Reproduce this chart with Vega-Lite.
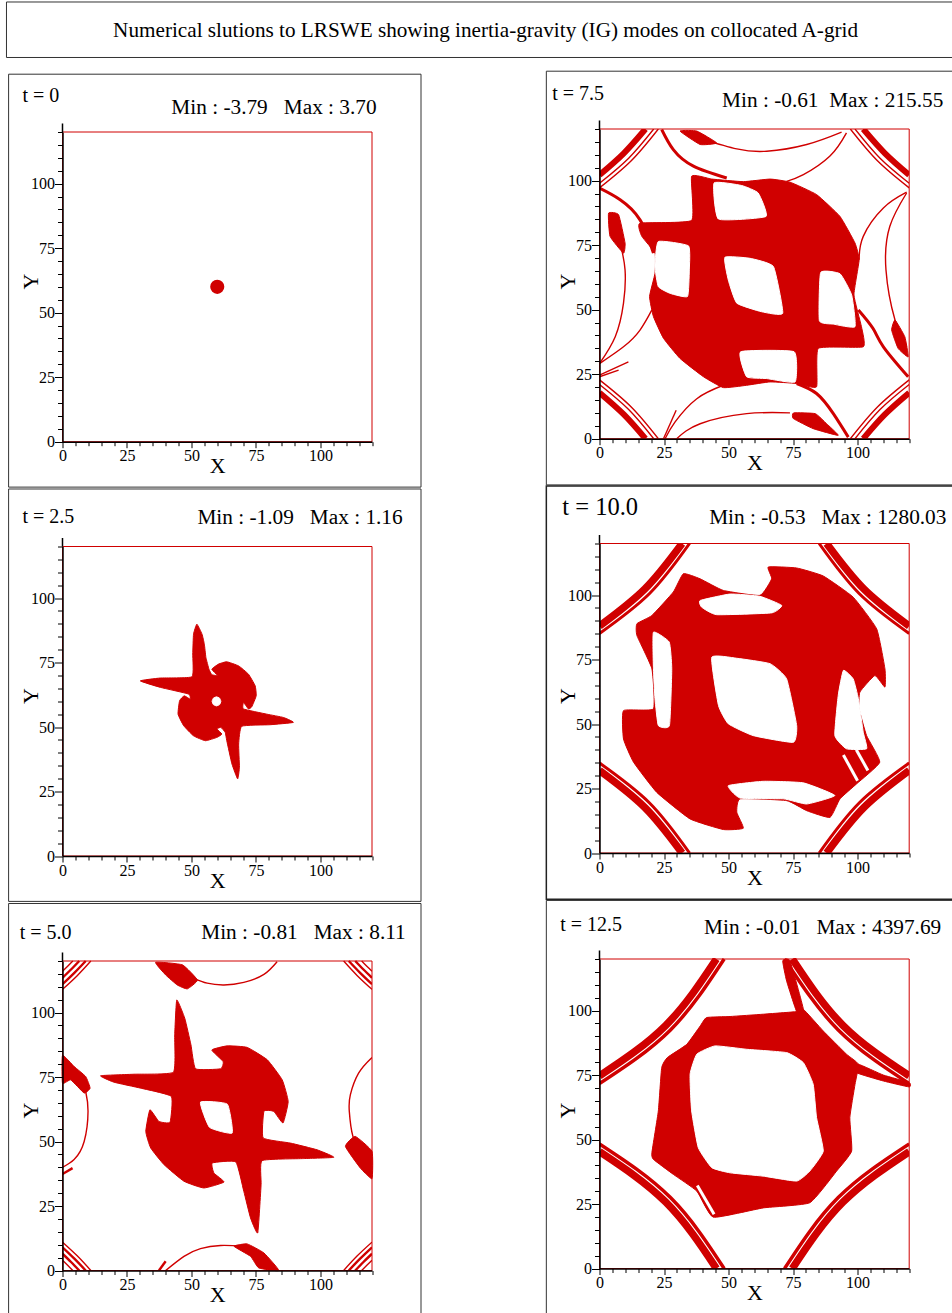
{"$schema":"https://vega.github.io/schema/vega-lite/v6.json","background":"white","padding":{"left":5.5,"top":0.5,"right":0,"bottom":0},"bounds":"flush","columns":2,"spacing":{"row":101.5,"column":227},
"config":{"view":{"stroke":null},"font":"Liberation Serif","axis":{"grid":false,"domainColor":"#000","tickColor":"#000","labelColor":"#000","titleColor":"#000","labelFont":"Liberation Serif","titleFont":"Liberation Serif","labelFontSize":16,"titleFontSize":22,"titleFontWeight":"normal","domainWidth":1.5,"labelOverlap":false,"labelFlush":false},"axisX":{"labelPadding":0,"titleY":31,"titleBaseline":"alphabetic"},"axisY":{"labelPadding":0,"titleX":-25,"titleY":152,"titleBaseline":"alphabetic"}},
"datasets":{
"box":[{"x":0,"y":0,"i":0},{"x":120,"y":0,"i":1},{"x":120,"y":120,"i":2},{"x":0,"y":120,"i":3},{"x":0,"y":0,"i":4}],
"ext":[{"x":0,"y":120,"i":0},{"x":0,"y":123.3,"i":1}],
"p2":[{"s":"f1","i":0,"x":52.1,"y":89.9},{"s":"f1","i":1,"x":54.1,"y":86},{"s":"f1","i":2,"x":55,"y":82.1},{"s":"f1","i":3,"x":55.6,"y":77},{"s":"f1","i":4,"x":56.8,"y":72.4},{"s":"f1","i":5,"x":57.9,"y":70.3},{"s":"f1","i":6,"x":60.1,"y":70},{"s":"f1","i":7,"x":57.9,"y":72.4},{"s":"f1","i":8,"x":60.5,"y":74.4},{"s":"f1","i":9,"x":63.7,"y":75.3},{"s":"f1","i":10,"x":68.3,"y":73.7},{"s":"f1","i":11,"x":72.1,"y":70.5},{"s":"f1","i":12,"x":74.7,"y":66},{"s":"f1","i":13,"x":75.1,"y":62.1},{"s":"f1","i":14,"x":73.4,"y":57.9},{"s":"f1","i":15,"x":72.1,"y":57},{"s":"f1","i":16,"x":70.2,"y":59.5},{"s":"f1","i":17,"x":70.2,"y":57},{"s":"f1","i":18,"x":79.2,"y":55},{"s":"f1","i":19,"x":85.7,"y":53.7},{"s":"f1","i":20,"x":89.5,"y":51.8},{"s":"f1","i":21,"x":80.5,"y":50.9},{"s":"f1","i":22,"x":69.5,"y":50.3},{"s":"f1","i":23,"x":68.3,"y":43.4},{"s":"f1","i":24,"x":68.6,"y":34.4},{"s":"f1","i":25,"x":67.9,"y":29.9},{"s":"f1","i":26,"x":65.7,"y":35.7},{"s":"f1","i":27,"x":63.7,"y":44.7},{"s":"f1","i":28,"x":63.1,"y":47.9},{"s":"f1","i":29,"x":61.4,"y":49.9},{"s":"f1","i":30,"x":59.9,"y":49.2},{"s":"f1","i":31,"x":61.8,"y":47.3},{"s":"f1","i":32,"x":59.9,"y":46},{"s":"f1","i":33,"x":55.4,"y":44.7},{"s":"f1","i":34,"x":50.8,"y":46.6},{"s":"f1","i":35,"x":47,"y":50.5},{"s":"f1","i":36,"x":44.8,"y":55},{"s":"f1","i":37,"x":45.4,"y":60.2},{"s":"f1","i":38,"x":47.2,"y":62.1},{"s":"f1","i":39,"x":49.5,"y":60.8},{"s":"f1","i":40,"x":48.9,"y":62.8},{"s":"f1","i":41,"x":37.9,"y":65.4},{"s":"f1","i":42,"x":30.2,"y":67.9},{"s":"f1","i":43,"x":37.9,"y":69},{"s":"f1","i":44,"x":50.2,"y":69.5},{"s":"f1","i":45,"x":50.5,"y":78.3},{"s":"f1","i":46,"x":50.8,"y":86},
{"s":"h1","i":0,"x":58,"y":60},{"s":"h1","i":1,"x":58.5,"y":61.2},{"s":"h1","i":2,"x":59.7,"y":61.7},{"s":"h1","i":3,"x":60.9,"y":61.2},{"s":"h1","i":4,"x":61.4,"y":60},{"s":"h1","i":5,"x":60.9,"y":58.7},{"s":"h1","i":6,"x":59.7,"y":58.2},{"s":"h1","i":7,"x":58.5,"y":58.7}],
"p3":[{"s":"f1","i":0,"x":44.3,"y":104.9},{"s":"f1","i":1,"x":47.4,"y":97.8},{"s":"f1","i":2,"x":49.8,"y":87.5},{"s":"f1","i":3,"x":51.6,"y":78.2},{"s":"f1","i":4,"x":61.3,"y":78.2},{"s":"f1","i":5,"x":62.3,"y":81},{"s":"f1","i":6,"x":57.9,"y":85.5},{"s":"f1","i":7,"x":63.9,"y":87.1},{"s":"f1","i":8,"x":71.6,"y":86.5},{"s":"f1","i":9,"x":79.4,"y":81.7},{"s":"f1","i":10,"x":85.2,"y":73.9},{"s":"f1","i":11,"x":87.5,"y":65.5},{"s":"f1","i":12,"x":85.5,"y":57.2},{"s":"f1","i":13,"x":81.9,"y":61.7},{"s":"f1","i":14,"x":78.1,"y":61.7},{"s":"f1","i":15,"x":77.8,"y":51.4},{"s":"f1","i":16,"x":88.4,"y":49.4},{"s":"f1","i":17,"x":98.7,"y":46.8},{"s":"f1","i":18,"x":105.2,"y":43.9},{"s":"f1","i":19,"x":93.5,"y":43.4},{"s":"f1","i":20,"x":77.4,"y":42.6},{"s":"f1","i":21,"x":77,"y":33.3},{"s":"f1","i":22,"x":75.7,"y":14.6},{"s":"f1","i":23,"x":72.9,"y":20.4},{"s":"f1","i":24,"x":70.3,"y":30.7},{"s":"f1","i":25,"x":67.2,"y":42.1},{"s":"f1","i":26,"x":58.1,"y":41.7},{"s":"f1","i":27,"x":58.7,"y":37.8},{"s":"f1","i":28,"x":62.6,"y":34.3},{"s":"f1","i":29,"x":54.8,"y":32},{"s":"f1","i":30,"x":47.1,"y":34.6},{"s":"f1","i":31,"x":39.4,"y":41},{"s":"f1","i":32,"x":34.2,"y":47.5},{"s":"f1","i":33,"x":32.3,"y":53.9},{"s":"f1","i":34,"x":33.9,"y":62.3},{"s":"f1","i":35,"x":37.4,"y":57.8},{"s":"f1","i":36,"x":41.7,"y":57.5},{"s":"f1","i":37,"x":42.2,"y":67.5},{"s":"f1","i":38,"x":30.3,"y":70.7},{"s":"f1","i":39,"x":20,"y":73},{"s":"f1","i":40,"x":14.8,"y":75.5},{"s":"f1","i":41,"x":27.7,"y":76.1},{"s":"f1","i":42,"x":43,"y":76.9},{"s":"f1","i":43,"x":43.5,"y":91.4},
{"s":"f2","i":0,"x":36.1,"y":119.5},{"s":"f2","i":1,"x":46.5,"y":118.5},{"s":"f2","i":2,"x":52.3,"y":112.6},{"s":"f2","i":3,"x":48.4,"y":109.2},{"s":"f2","i":4,"x":44.5,"y":110.7},{"s":"f2","i":5,"x":40,"y":114.6},
{"s":"f3","i":0,"x":0,"y":83.4},{"s":"f3","i":1,"x":4.5,"y":79.1},{"s":"f3","i":2,"x":9,"y":75.2},{"s":"f3","i":3,"x":10.7,"y":70.7},{"s":"f3","i":4,"x":8.4,"y":68.8},{"s":"f3","i":5,"x":3.2,"y":73.9},{"s":"f3","i":6,"x":0,"y":72.6},
{"s":"f4","i":0,"x":109.7,"y":48.1},{"s":"f4","i":1,"x":113.5,"y":52},{"s":"f4","i":2,"x":120,"y":46.2},{"s":"f4","i":3,"x":120,"y":35.6},{"s":"f4","i":4,"x":115.5,"y":39.7},
{"s":"f5","i":0,"x":66.5,"y":9.4},{"s":"f5","i":1,"x":71.6,"y":10.3},{"s":"f5","i":2,"x":78.1,"y":6.8},{"s":"f5","i":3,"x":83.9,"y":0},{"s":"f5","i":4,"x":76.1,"y":1},{"s":"f5","i":5,"x":72.9,"y":5.5},
{"s":"h1","i":0,"x":53.5,"y":65.3},{"s":"h1","i":1,"x":63.9,"y":64.5},{"s":"h1","i":2,"x":65.8,"y":53.3},{"s":"h1","i":3,"x":57,"y":55.5},
{"s":"t1","i":0,"x":51,"y":113.3},{"s":"t1","i":1,"x":56.1,"y":111.4},{"s":"t1","i":2,"x":62.6,"y":110.7},{"s":"t1","i":3,"x":70.3,"y":111.7},{"s":"t1","i":4,"x":78.1,"y":114.8},{"s":"t1","i":5,"x":83.2,"y":119.7},
{"s":"t2","i":0,"x":0,"y":40},{"s":"t2","i":1,"x":4.5,"y":43},{"s":"t2","i":2,"x":8.4,"y":50},{"s":"t2","i":3,"x":9.9,"y":61.7},{"s":"t2","i":4,"x":9,"y":69.4},{"s":"t2","i":5,"x":6.5,"y":75.9},{"s":"t2","i":6,"x":0,"y":83},
{"s":"t3","i":0,"x":120,"y":82.6},{"s":"t3","i":1,"x":114.8,"y":76.5},{"s":"t3","i":2,"x":111.6,"y":68.1},{"s":"t3","i":3,"x":111.2,"y":61.7},{"s":"t3","i":4,"x":112.6,"y":52},{"s":"t3","i":5,"x":115.5,"y":47},
{"s":"t4","i":0,"x":40,"y":0},{"s":"t4","i":1,"x":47.1,"y":5.5},{"s":"t4","i":2,"x":53.5,"y":8.5},{"s":"t4","i":3,"x":61.3,"y":9.7},{"s":"t4","i":4,"x":70.3,"y":9.4},
{"s":"m1","i":0,"x":0,"y":37.4},{"s":"m1","i":1,"x":3.9,"y":39.7},{"s":"m2","i":0,"x":37.4,"y":0},{"s":"m2","i":1,"x":40,"y":3.6},
{"s":"t5","i":0,"x":0,"y":109},{"s":"t5","i":1,"x":5.7,"y":114.3},{"s":"t5","i":2,"x":11,"y":120},{"s":"t6","i":0,"x":0,"y":11},{"s":"t6","i":1,"x":5.7,"y":5.7},{"s":"t6","i":2,"x":11,"y":0},{"s":"t7","i":0,"x":109,"y":120},{"s":"t7","i":1,"x":114.3,"y":114.3},{"s":"t7","i":2,"x":120,"y":109},{"s":"t8","i":0,"x":109,"y":0},{"s":"t8","i":1,"x":114.3,"y":5.7},{"s":"t8","i":2,"x":120,"y":11},
{"s":"m3","i":0,"x":0,"y":111},{"s":"m3","i":1,"x":4.6,"y":115.4},{"s":"m3","i":2,"x":9,"y":120},{"s":"m4","i":0,"x":0,"y":9},{"s":"m4","i":1,"x":4.6,"y":4.6},{"s":"m4","i":2,"x":9,"y":0},{"s":"m5","i":0,"x":111,"y":120},{"s":"m5","i":1,"x":115.4,"y":115.4},{"s":"m5","i":2,"x":120,"y":111},{"s":"m6","i":0,"x":111,"y":0},{"s":"m6","i":1,"x":115.4,"y":4.6},{"s":"m6","i":2,"x":120,"y":9},
{"s":"m7","i":0,"x":0,"y":113.5},{"s":"m7","i":1,"x":3.3,"y":116.7},{"s":"m7","i":2,"x":6.5,"y":120},{"s":"m8","i":0,"x":0,"y":6.5},{"s":"m8","i":1,"x":3.3,"y":3.3},{"s":"m8","i":2,"x":6.5,"y":0},{"s":"m9","i":0,"x":113.5,"y":120},{"s":"m9","i":1,"x":116.7,"y":116.7},{"s":"m9","i":2,"x":120,"y":113.5},{"s":"m10","i":0,"x":113.5,"y":0},{"s":"m10","i":1,"x":116.7,"y":3.3},{"s":"m10","i":2,"x":120,"y":6.5},
{"s":"t9","i":0,"x":0,"y":116},{"s":"t9","i":1,"x":2,"y":118},{"s":"t9","i":2,"x":4,"y":120},{"s":"t10","i":0,"x":0,"y":4},{"s":"t10","i":1,"x":2,"y":2},{"s":"t10","i":2,"x":4,"y":0},{"s":"t11","i":0,"x":116,"y":120},{"s":"t11","i":1,"x":118,"y":118},{"s":"t11","i":2,"x":120,"y":116},{"s":"t12","i":0,"x":116,"y":0},{"s":"t12","i":1,"x":118,"y":2},{"s":"t12","i":2,"x":120,"y":4}],
"p4":[{"s":"f1","i":0,"x":35.7,"y":101.7},{"s":"f1","i":1,"x":43.5,"y":100.6},{"s":"f1","i":2,"x":55.7,"y":99.6},{"s":"f1","i":3,"x":66.1,"y":100.6},{"s":"f1","i":4,"x":73.8,"y":99.4},{"s":"f1","i":5,"x":84.1,"y":94.6},{"s":"f1","i":6,"x":93.2,"y":86.1},{"s":"f1","i":7,"x":99,"y":75.8},{"s":"f1","i":8,"x":100.6,"y":69.3},{"s":"f1","i":9,"x":98.6,"y":55.7},{"s":"f1","i":10,"x":101.5,"y":43.4},{"s":"f1","i":11,"x":102.2,"y":35.6},{"s":"f1","i":12,"x":84.8,"y":35},{"s":"f1","i":13,"x":84.1,"y":20.1},{"s":"f1","i":14,"x":76.4,"y":21.4},{"s":"f1","i":15,"x":66.1,"y":22},{"s":"f1","i":16,"x":57,"y":20.7},{"s":"f1","i":17,"x":48,"y":19.8},{"s":"f1","i":18,"x":40.3,"y":24},{"s":"f1","i":19,"x":31.2,"y":31.1},{"s":"f1","i":20,"x":24.8,"y":38.9},{"s":"f1","i":21,"x":20.9,"y":47.3},{"s":"f1","i":22,"x":19.4,"y":55.1},{"s":"f1","i":23,"x":21.5,"y":64.1},{"s":"f1","i":24,"x":21.5,"y":71.9},{"s":"f1","i":25,"x":16.4,"y":78.4},{"s":"f1","i":26,"x":15.7,"y":83.5},{"s":"f1","i":27,"x":35.7,"y":84.6},
{"s":"f2","i":0,"x":31.2,"y":119.2},{"s":"f2","i":1,"x":37.7,"y":119.2},{"s":"f2","i":2,"x":45.4,"y":114.6},{"s":"f2","i":3,"x":39,"y":114},
{"s":"f3","i":0,"x":3.5,"y":87.4},{"s":"f3","i":1,"x":7.4,"y":86.8},{"s":"f3","i":2,"x":9.9,"y":75.8},{"s":"f3","i":3,"x":9.3,"y":71.9},{"s":"f3","i":4,"x":4.1,"y":78.4},
{"s":"f4","i":0,"x":75.2,"y":10},{"s":"f4","i":1,"x":83.6,"y":9.7},{"s":"f4","i":2,"x":88,"y":5.8},{"s":"f4","i":3,"x":92.5,"y":1.3},{"s":"f4","i":4,"x":82.8,"y":3.9},{"s":"f4","i":5,"x":75.1,"y":7.8},
{"s":"f5","i":0,"x":114.5,"y":46},{"s":"f5","i":1,"x":118.3,"y":39.5},{"s":"f5","i":2,"x":119.6,"y":31.7},{"s":"f5","i":3,"x":115.7,"y":35},{"s":"f5","i":4,"x":113.2,"y":42.1},
{"s":"h1","i":0,"x":44.4,"y":99.1},{"s":"h1","i":1,"x":55.1,"y":98.1},{"s":"h1","i":2,"x":61.5,"y":95.2},{"s":"h1","i":3,"x":64.5,"y":86.1},{"s":"h1","i":4,"x":46.1,"y":85.1},
{"s":"h2","i":0,"x":22.8,"y":76.4},{"s":"h2","i":1,"x":34.5,"y":74.7},{"s":"h2","i":2,"x":34.8,"y":65.4},{"s":"h2","i":3,"x":34.1,"y":55.1},{"s":"h2","i":4,"x":27.4,"y":56.3},{"s":"h2","i":5,"x":22.8,"y":58.9},{"s":"h2","i":6,"x":21.5,"y":66.7},
{"s":"h3","i":0,"x":48.6,"y":70.3},{"s":"h3","i":1,"x":58.3,"y":69.9},{"s":"h3","i":2,"x":67.4,"y":66.7},{"s":"h3","i":3,"x":71,"y":48.6},{"s":"h3","i":4,"x":62.8,"y":49.2},{"s":"h3","i":5,"x":53.2,"y":52.5},{"s":"h3","i":6,"x":49.9,"y":61.5},
{"s":"h4","i":0,"x":85.7,"y":64.4},{"s":"h4","i":1,"x":93.2,"y":63.9},{"s":"h4","i":2,"x":97.7,"y":55.7},{"s":"h4","i":3,"x":99,"y":43.4},{"s":"h4","i":4,"x":90.6,"y":44.4},{"s":"h4","i":5,"x":85.2,"y":45.7},
{"s":"h5","i":0,"x":54.7,"y":33.7},{"s":"h5","i":1,"x":75.4,"y":33.7},{"s":"h5","i":2,"x":75.8,"y":22},{"s":"h5","i":3,"x":64.8,"y":23.3},{"s":"h5","i":4,"x":57,"y":24},
{"s":"t1","i":0,"x":93.8,"y":118.8},{"s":"t1","i":1,"x":80.3,"y":114},{"s":"t1","i":2,"x":64.8,"y":111.4},{"s":"t1","i":3,"x":53.2,"y":112.3},{"s":"t1","i":4,"x":40.3,"y":115.9},
{"s":"m1","i":0,"x":24.1,"y":119.8},{"s":"m1","i":1,"x":28.6,"y":112},{"s":"m1","i":2,"x":36.4,"y":105.6},{"s":"m1","i":3,"x":49.3,"y":101},
{"s":"t2","i":0,"x":95.7,"y":118.5},{"s":"t2","i":1,"x":89.3,"y":109.5},{"s":"t2","i":2,"x":79,"y":102.3},{"s":"t2","i":3,"x":72.5,"y":99.7},
{"s":"t3","i":0,"x":0,"y":29.1},{"s":"t3","i":1,"x":6.1,"y":39.5},{"s":"t3","i":2,"x":9.3,"y":52.5},{"s":"t3","i":3,"x":9.9,"y":65.4},{"s":"t3","i":4,"x":8,"y":75.8},
{"s":"m2","i":0,"x":0,"y":97.1},{"s":"m2","i":1,"x":8,"y":92.6},{"s":"m2","i":2,"x":15.7,"y":84.8},{"s":"m2","i":3,"x":20.9,"y":71.9},
{"s":"t4","i":0,"x":0,"y":29.1},{"s":"t4","i":1,"x":9.3,"y":35.6},{"s":"t4","i":2,"x":15.7,"y":42.1},{"s":"t4","i":3,"x":20.3,"y":49.9},
{"s":"t5","i":0,"x":0,"y":24.6},{"s":"t5","i":1,"x":11.2,"y":29.8},{"s":"t6","i":0,"x":0,"y":24},{"s":"t6","i":1,"x":7.4,"y":26.6},
{"s":"t7","i":0,"x":29.9,"y":0},{"s":"t7","i":1,"x":39,"y":5.8},{"s":"t7","i":2,"x":57,"y":9.7},{"s":"t7","i":3,"x":73.8,"y":10},
{"s":"t8","i":0,"x":24.8,"y":0},{"s":"t8","i":1,"x":29.7,"y":11},
{"s":"t9","i":0,"x":48,"y":20.7},{"s":"t9","i":1,"x":37.7,"y":15.5},{"s":"t9","i":2,"x":29.3,"y":6.5},{"s":"t9","i":3,"x":25.4,"y":0},
{"s":"m3","i":0,"x":76.4,"y":21.4},{"s":"m3","i":1,"x":84.1,"y":17.5},{"s":"m3","i":2,"x":90.6,"y":9.7},{"s":"m3","i":3,"x":96.4,"y":0.6},
{"s":"t10","i":0,"x":100.6,"y":69.3},{"s":"t10","i":1,"x":102.2,"y":78.4},{"s":"t10","i":2,"x":110,"y":89.4},{"s":"t10","i":3,"x":119,"y":95.5},
{"s":"t11","i":0,"x":119,"y":95.2},{"s":"t11","i":1,"x":112.5,"y":82.3},{"s":"t11","i":2,"x":111,"y":65.4},{"s":"t11","i":3,"x":114.5,"y":46},{"s":"t11","i":4,"x":119,"y":35.6},
{"s":"m4","i":0,"x":100.3,"y":49.9},{"s":"m4","i":1,"x":106,"y":42.7},{"s":"m4","i":2,"x":110,"y":35.6},{"s":"m4","i":3,"x":119.6,"y":24},
{"s":"T1","i":0,"x":0,"y":102.2},{"s":"T1","i":1,"x":9.4,"y":110.6},{"s":"T1","i":2,"x":17.8,"y":120},{"s":"T2","i":0,"x":0,"y":17.8},{"s":"T2","i":1,"x":9.4,"y":9.4},{"s":"T2","i":2,"x":17.8,"y":0},{"s":"T3","i":0,"x":102.2,"y":120},{"s":"T3","i":1,"x":110.6,"y":110.6},{"s":"T3","i":2,"x":120,"y":102.2},{"s":"T4","i":0,"x":102.2,"y":0},{"s":"T4","i":1,"x":110.6,"y":9.4},{"s":"T4","i":2,"x":120,"y":17.8},
{"s":"t21","i":0,"x":0,"y":99},{"s":"t21","i":1,"x":11.3,"y":108.7},{"s":"t21","i":2,"x":21,"y":120},{"s":"t22","i":0,"x":0,"y":21},{"s":"t22","i":1,"x":11.3,"y":11.3},{"s":"t22","i":2,"x":21,"y":0},{"s":"t23","i":0,"x":99,"y":120},{"s":"t23","i":1,"x":108.7,"y":108.7},{"s":"t23","i":2,"x":120,"y":99},{"s":"t24","i":0,"x":99,"y":0},{"s":"t24","i":1,"x":108.7,"y":11.3},{"s":"t24","i":2,"x":120,"y":21},
{"s":"t31","i":0,"x":0,"y":97.2},{"s":"t31","i":1,"x":12.3,"y":107.7},{"s":"t31","i":2,"x":22.8,"y":120},{"s":"t32","i":0,"x":0,"y":22.8},{"s":"t32","i":1,"x":12.3,"y":12.3},{"s":"t32","i":2,"x":22.8,"y":0},{"s":"t33","i":0,"x":97.2,"y":120},{"s":"t33","i":1,"x":107.7,"y":107.7},{"s":"t33","i":2,"x":120,"y":97.2},{"s":"t34","i":0,"x":97.2,"y":0},{"s":"t34","i":1,"x":107.7,"y":12.3},{"s":"t34","i":2,"x":120,"y":22.8}],
"p5":[{"s":"f1","i":0,"x":65.4,"y":110.9},{"s":"f1","i":1,"x":76.4,"y":110.5},{"s":"f1","i":2,"x":86.7,"y":107.4},{"s":"f1","i":3,"x":98.3,"y":99.2},{"s":"f1","i":4,"x":107.4,"y":86.9},{"s":"f1","i":5,"x":110.6,"y":71.4},{"s":"f1","i":6,"x":110.6,"y":64.3},{"s":"f1","i":7,"x":106.7,"y":68.8},{"s":"f1","i":8,"x":100.9,"y":62.4},{"s":"f1","i":9,"x":100.6,"y":55.9},{"s":"f1","i":10,"x":103.5,"y":45.5},{"s":"f1","i":11,"x":108.6,"y":35.2},{"s":"f1","i":12,"x":99.6,"y":26.8},{"s":"f1","i":13,"x":93.2,"y":21},{"s":"f1","i":14,"x":89.3,"y":13.8},{"s":"f1","i":15,"x":80.3,"y":16.4},{"s":"f1","i":16,"x":72.5,"y":20.3},{"s":"f1","i":17,"x":54.5,"y":21},{"s":"f1","i":18,"x":53.2,"y":15.8},{"s":"f1","i":19,"x":55.7,"y":9.6},{"s":"f1","i":20,"x":48,"y":9.1},{"s":"f1","i":21,"x":35.1,"y":13.2},{"s":"f1","i":22,"x":22.2,"y":23.5},{"s":"f1","i":23,"x":13.2,"y":35.2},{"s":"f1","i":24,"x":9.3,"y":44.2},{"s":"f1","i":25,"x":9.3,"y":55.2},{"s":"f1","i":26,"x":20.9,"y":55.9},{"s":"f1","i":27,"x":20.3,"y":71.4},{"s":"f1","i":28,"x":14.5,"y":84.3},{"s":"f1","i":29,"x":14.5,"y":88.9},{"s":"f1","i":30,"x":20.3,"y":92.1},{"s":"f1","i":31,"x":28.6,"y":101.2},{"s":"f1","i":32,"x":32.5,"y":108.3},{"s":"f1","i":33,"x":39,"y":106.3},{"s":"f1","i":34,"x":48,"y":101.8},{"s":"f1","i":35,"x":62.2,"y":99.9},{"s":"f1","i":36,"x":66.7,"y":106.3},
{"s":"h1","i":0,"x":43.5,"y":75.9},{"s":"h1","i":1,"x":53.2,"y":75.5},{"s":"h1","i":2,"x":66.1,"y":73.4},{"s":"h1","i":3,"x":72.5,"y":67.5},{"s":"h1","i":4,"x":76.4,"y":49.4},{"s":"h1","i":5,"x":75.1,"y":42.9},{"s":"h1","i":6,"x":59.6,"y":45.5},{"s":"h1","i":7,"x":49.9,"y":50.1},{"s":"h1","i":8,"x":46.1,"y":57.2},
{"s":"h2","i":0,"x":39,"y":97.9},{"s":"h2","i":1,"x":50.6,"y":100.4},{"s":"h2","i":2,"x":62.2,"y":99.5},{"s":"h2","i":3,"x":70.6,"y":96},{"s":"h2","i":4,"x":66.7,"y":93.1},{"s":"h2","i":5,"x":45.4,"y":92.4},{"s":"h2","i":6,"x":39.6,"y":95.3},
{"s":"h3","i":0,"x":20.9,"y":85.6},{"s":"h3","i":1,"x":27,"y":81.8},{"s":"h3","i":2,"x":28,"y":71.4},{"s":"h3","i":3,"x":27.1,"y":49.4},{"s":"h3","i":4,"x":22.8,"y":49.4},{"s":"h3","i":5,"x":21.5,"y":59.8},{"s":"h3","i":6,"x":20.9,"y":71.4},
{"s":"h4","i":0,"x":94.5,"y":70.8},{"s":"h4","i":1,"x":98.3,"y":67.5},{"s":"h4","i":2,"x":100.3,"y":59.8},{"s":"h4","i":3,"x":102.2,"y":46.8},{"s":"h4","i":4,"x":103.5,"y":40.4},{"s":"h4","i":5,"x":95.7,"y":40.4},{"s":"h4","i":6,"x":91.2,"y":45.5},{"s":"h4","i":7,"x":92.5,"y":61.1},
{"s":"h5","i":0,"x":49.9,"y":26.1},{"s":"h5","i":1,"x":63.5,"y":27.8},{"s":"h5","i":2,"x":79,"y":27.2},{"s":"h5","i":3,"x":91.2,"y":22.3},{"s":"h5","i":4,"x":80.3,"y":19},{"s":"h5","i":5,"x":71.3,"y":21},{"s":"h5","i":6,"x":54.5,"y":21.3},
{"s":"w1","i":0,"x":94.5,"y":38},{"s":"w1","i":1,"x":100,"y":28},{"s":"w2","i":0,"x":99.5,"y":40},{"s":"w2","i":1,"x":104,"y":32},
{"s":"T1","i":0,"x":0,"y":88},{"s":"T1","i":1,"x":17.6,"y":102.4},{"s":"T1","i":2,"x":32,"y":120},{"s":"T2","i":0,"x":0,"y":32},{"s":"T2","i":1,"x":17.6,"y":17.6},{"s":"T2","i":2,"x":32,"y":0},{"s":"T3","i":0,"x":88,"y":120},{"s":"T3","i":1,"x":102.4,"y":102.4},{"s":"T3","i":2,"x":120,"y":88},{"s":"T4","i":0,"x":88,"y":0},{"s":"T4","i":1,"x":102.4,"y":17.6},{"s":"T4","i":2,"x":120,"y":32},
{"s":"m1","i":0,"x":0,"y":85.1},{"s":"m1","i":1,"x":19.4,"y":100.6},{"s":"m1","i":2,"x":34.9,"y":120},{"s":"m2","i":0,"x":0,"y":34.9},{"s":"m2","i":1,"x":19.4,"y":19.4},{"s":"m2","i":2,"x":34.9,"y":0},{"s":"m3","i":0,"x":85.1,"y":120},{"s":"m3","i":1,"x":100.6,"y":100.6},{"s":"m3","i":2,"x":120,"y":85.1},{"s":"m4","i":0,"x":85.1,"y":0},{"s":"m4","i":1,"x":100.6,"y":19.4},{"s":"m4","i":2,"x":120,"y":34.9}],
"p6":[{"s":"f1","i":0,"x":41.5,"y":97.3},{"s":"f1","i":1,"x":50.6,"y":97.7},{"s":"f1","i":2,"x":63.5,"y":98.6},{"s":"f1","i":3,"x":76.4,"y":99.6},{"s":"f1","i":4,"x":79,"y":100.5},{"s":"f1","i":5,"x":86.7,"y":92.1},{"s":"f1","i":6,"x":95.7,"y":83.1},{"s":"f1","i":7,"x":100.3,"y":79.2},{"s":"f1","i":8,"x":99,"y":71.4},{"s":"f1","i":9,"x":97,"y":58.5},{"s":"f1","i":10,"x":97.7,"y":45.5},{"s":"f1","i":11,"x":91.9,"y":37.8},{"s":"f1","i":12,"x":81.5,"y":25.5},{"s":"f1","i":13,"x":63.5,"y":23.5},{"s":"f1","i":14,"x":44.1,"y":19.9},{"s":"f1","i":15,"x":37.7,"y":30},{"s":"f1","i":16,"x":28.6,"y":36.5},{"s":"f1","i":17,"x":20.9,"y":42.3},{"s":"f1","i":18,"x":20.3,"y":44.9},{"s":"f1","i":19,"x":22.8,"y":61.1},{"s":"f1","i":20,"x":24.1,"y":77.9},{"s":"f1","i":21,"x":26.3,"y":81.8},{"s":"f1","i":22,"x":33.8,"y":86.9},{"s":"f1","i":23,"x":39,"y":94},
{"s":"f2","i":0,"x":71,"y":119.3},{"s":"f2","i":1,"x":73.8,"y":119.3},{"s":"f2","i":2,"x":79,"y":100.5},{"s":"f2","i":3,"x":76.4,"y":99.6},{"s":"f2","i":4,"x":72.5,"y":111.5},
{"s":"f3","i":0,"x":100.3,"y":79.2},{"s":"f3","i":1,"x":110,"y":75},{"s":"f3","i":2,"x":120,"y":72.1},{"s":"f3","i":3,"x":120,"y":70.4},{"s":"f3","i":4,"x":110,"y":72.7},{"s":"f3","i":5,"x":99.6,"y":75.9},
{"s":"h1","i":0,"x":44.8,"y":86.3},{"s":"h1","i":1,"x":57,"y":85},{"s":"h1","i":2,"x":72.5,"y":83.7},{"s":"h1","i":3,"x":79,"y":79.8},{"s":"h1","i":4,"x":82.8,"y":71.4},{"s":"h1","i":5,"x":84.1,"y":58.5},{"s":"h1","i":6,"x":86.7,"y":45.5},{"s":"h1","i":7,"x":81.5,"y":37.8},{"s":"h1","i":8,"x":76.4,"y":33.9},{"s":"h1","i":9,"x":63.5,"y":35.8},{"s":"h1","i":10,"x":50.6,"y":37.1},{"s":"h1","i":11,"x":43.5,"y":39.1},{"s":"h1","i":12,"x":38.3,"y":46.8},{"s":"h1","i":13,"x":35.7,"y":61.1},{"s":"h1","i":14,"x":35.1,"y":75.3},{"s":"h1","i":15,"x":37.7,"y":83.1},
{"s":"w1","i":0,"x":37.9,"y":32.2},{"s":"w1","i":1,"x":44.4,"y":21},
{"s":"T1","i":0,"x":0,"y":74.7},{"s":"T1","i":1,"x":25.7,"y":94.3},{"s":"T1","i":2,"x":45.3,"y":120},{"s":"T2","i":0,"x":0,"y":45.3},{"s":"T2","i":1,"x":25.7,"y":25.7},{"s":"T2","i":2,"x":45.3,"y":0},{"s":"T3","i":0,"x":74.7,"y":120},{"s":"T3","i":1,"x":94.3,"y":94.3},{"s":"T3","i":2,"x":120,"y":74.7},{"s":"T4","i":0,"x":74.7,"y":0},{"s":"T4","i":1,"x":94.3,"y":25.7},{"s":"T4","i":2,"x":120,"y":45.3},
{"s":"m1","i":0,"x":0,"y":71.7},{"s":"m1","i":1,"x":27.5,"y":92.5},{"s":"m1","i":2,"x":48.3,"y":120},{"s":"m2","i":0,"x":0,"y":48.3},{"s":"m2","i":1,"x":27.5,"y":27.5},{"s":"m2","i":2,"x":48.3,"y":0},{"s":"m3","i":0,"x":71.7,"y":120},{"s":"m3","i":1,"x":92.5,"y":92.5},{"s":"m3","i":2,"x":120,"y":71.7},{"s":"m4","i":0,"x":71.7,"y":0},{"s":"m4","i":1,"x":92.5,"y":27.5},{"s":"m4","i":2,"x":120,"y":48.3}]
},
"concat":[
{"width":309.5,"height":25.9,"data":{"values":[{"x":-18.1,"x2":287.9,"y":98.1,"y2":-116.2,"label":"Numerical slutions to LRSWE showing inertia-gravity (IG) modes on collocated A-grid","tx":136.7,"ty":-37.8}]},
"layer":[{"mark":{"type":"rect","filled":false,"stroke":"#333","strokeWidth":1},"encoding":{"x":{"field":"x","type":"quantitative","scale":{"domain":[0,100],"range":[0,309.5],"nice":false,"zero":false},"axis":null},"x2":{"field":"x2"},"y":{"field":"y","type":"quantitative","scale":{"domain":[0,100],"range":[25.9,0],"nice":false,"zero":false},"axis":null},"y2":{"field":"y2"}}},
{"mark":{"type":"text","font":"Liberation Serif","fontSize":21.2,"align":"center","baseline":"alphabetic","color":"#000"},"encoding":{"x":{"field":"tx","type":"quantitative","axis":null},"y":{"field":"ty","type":"quantitative","axis":null},"text":{"field":"label"}}}]},
{"width":310,"height":25.9,"data":{"values":[{"x":0}]},"mark":{"type":"point","opacity":0},"encoding":{}},
{"width":309.5,"height":312.7,"encoding":{"x":{"field":"x","type":"quantitative","scale":{"domain":[0,120],"range":[0,309.5],"nice":false,"zero":false},"axis":{"zindex":1,"title":"X","values":[0,5,10,15,20,25,30,35,40,45,50,55,60,65,70,75,80,85,90,95,100,105,110,115,120],"labelExpr":"datum.value%25==0?datum.label:''","tickSize":{"condition":{"test":"datum.value%25==0","value":6},"value":4}}},"y":{"field":"y","type":"quantitative","scale":{"domain":[0,120],"range":[312.7,3],"nice":false,"zero":false},"axis":{"zindex":1,"title":"Y","values":[0,5,10,15,20,25,30,35,40,45,50,55,60,65,70,75,80,85,90,95,100,105,110,115,120],"labelExpr":"datum.value%25==0?datum.label:''","tickSize":{"condition":{"test":"datum.value%25==0","value":8},"value":5}}}},
"layer":[
{"data":{"values":[{"x":-20.9,"x2":139,"y":142.4,"y2":-17.6}]},"mark":{"type":"rect","filled":false,"stroke":"#333","strokeWidth":1},"encoding":{"x2":{"field":"x2"},"y2":{"field":"y2"}}},
{"data":{"name":"box"},"mark":{"type":"line","color":"#d00000","strokeWidth":1},"encoding":{"order":{"field":"i"}}},
{"data":{"name":"ext"},"mark":{"type":"line","color":"#000","strokeWidth":1.5},"encoding":{"order":{"field":"i"}}},
{"data":{"values":[{"x":60,"y":60}]},"mark":{"type":"circle","size":200,"color":"#d00000","opacity":1}},
{"data":{"values":[{"x":-15.5,"y":131.5,"label":"t = 0"}]},"mark":{"type":"text","font":"Liberation Serif","fontSize":20,"align":"left","baseline":"alphabetic","color":"#000"},"encoding":{"text":{"field":"label"}}},
{"data":{"values":[{"x":42.2,"y":126.9,"label":"Min : -3.79\u00a0\u00a0\u00a0Max : 3.70"}]},"mark":{"type":"text","font":"Liberation Serif","fontSize":21.3,"align":"left","baseline":"alphabetic","color":"#000"},"encoding":{"text":{"field":"label"}}}]},
{"width":309.7,"height":309.7,"data":{"name":"p4"},"encoding":{"x":{"field":"x","type":"quantitative","scale":{"domain":[0,120],"range":[0,309.7],"nice":false,"zero":false},"axis":{"zindex":1,"title":"X","values":[0,5,10,15,20,25,30,35,40,45,50,55,60,65,70,75,80,85,90,95,100,105,110,115,120],"labelExpr":"datum.value%25==0?datum.label:''","tickSize":{"condition":{"test":"datum.value%25==0","value":6},"value":4}}},"y":{"field":"y","type":"quantitative","scale":{"domain":[0,120],"range":[309.7,0],"nice":false,"zero":false},"axis":{"zindex":1,"title":"Y","values":[0,5,10,15,20,25,30,35,40,45,50,55,60,65,70,75,80,85,90,95,100,105,110,115,120],"labelExpr":"datum.value%25==0?datum.label:''","tickSize":{"condition":{"test":"datum.value%25==0","value":8},"value":5}}}},
"layer":[
{"data":{"values":[{"x":-20.6,"x2":136.9,"y":142.4,"y2":-17.9}]},"mark":{"type":"rect","filled":false,"stroke":"#333","strokeWidth":1},"encoding":{"x2":{"field":"x2"},"y2":{"field":"y2"}}},
{"data":{"name":"box"},"mark":{"type":"line","color":"#d00000","strokeWidth":1},"encoding":{"order":{"field":"i"}}},
{"data":{"name":"ext"},"mark":{"type":"line","color":"#000","strokeWidth":1.5},"encoding":{"order":{"field":"i"}}},
{"transform":[{"filter":"datum.s[0]=='f'"}],"mark":{"type":"line","stroke":"#d00000","fill":"#d00000","strokeWidth":1,"interpolate":"cardinal-closed","tension":0.6},"encoding":{"detail":{"field":"s"},"order":{"field":"i"}}},
{"transform":[{"filter":"datum.s[0]=='h'"}],"mark":{"type":"line","stroke":"white","fill":"white","strokeWidth":1,"interpolate":"cardinal-closed","tension":0.6},"encoding":{"detail":{"field":"s"},"order":{"field":"i"}}},
{"transform":[{"filter":"datum.s[0]=='T'"}],"mark":{"type":"line","color":"#d00000","strokeWidth":6,"interpolate":"natural","clip":true},"encoding":{"detail":{"field":"s"},"order":{"field":"i"}}},
{"transform":[{"filter":"datum.s[0]=='m'"}],"mark":{"type":"line","color":"#d00000","strokeWidth":3,"interpolate":"natural","clip":true},"encoding":{"detail":{"field":"s"},"order":{"field":"i"}}},
{"transform":[{"filter":"datum.s[0]=='t'"}],"mark":{"type":"line","color":"#d00000","strokeWidth":1.4,"interpolate":"natural","clip":true},"encoding":{"detail":{"field":"s"},"order":{"field":"i"}}},
{"data":{"values":[{"x":-18.3,"y":131.1,"label":"t = 7.5"}]},"mark":{"type":"text","font":"Liberation Serif","fontSize":20,"align":"left","baseline":"alphabetic","color":"#000"},"encoding":{"text":{"field":"label"}}},
{"data":{"values":[{"x":47.5,"y":128.4,"label":"Min : -0.61\u00a0\u00a0Max : 215.55"}]},"mark":{"type":"text","font":"Liberation Serif","fontSize":21.3,"align":"left","baseline":"alphabetic","color":"#000"},"encoding":{"text":{"field":"label"}}}]},
{"width":309.5,"height":312.5,"data":{"name":"p2"},"encoding":{"x":{"field":"x","type":"quantitative","scale":{"domain":[0,120],"range":[0,309.5],"nice":false,"zero":false},"axis":{"zindex":1,"title":"X","values":[0,5,10,15,20,25,30,35,40,45,50,55,60,65,70,75,80,85,90,95,100,105,110,115,120],"labelExpr":"datum.value%25==0?datum.label:''","tickSize":{"condition":{"test":"datum.value%25==0","value":6},"value":4}}},"y":{"field":"y","type":"quantitative","scale":{"domain":[0,120],"range":[312.5,3],"nice":false,"zero":false},"axis":{"zindex":1,"title":"Y","values":[0,5,10,15,20,25,30,35,40,45,50,55,60,65,70,75,80,85,90,95,100,105,110,115,120],"labelExpr":"datum.value%25==0?datum.label:''","tickSize":{"condition":{"test":"datum.value%25==0","value":8},"value":5}}}},
"layer":[
{"data":{"values":[{"x":-20.9,"x2":139,"y":142.3,"y2":-17.6}]},"mark":{"type":"rect","filled":false,"stroke":"#333","strokeWidth":1},"encoding":{"x2":{"field":"x2"},"y2":{"field":"y2"}}},
{"data":{"name":"box"},"mark":{"type":"line","color":"#d00000","strokeWidth":1},"encoding":{"order":{"field":"i"}}},
{"data":{"name":"ext"},"mark":{"type":"line","color":"#000","strokeWidth":1.5},"encoding":{"order":{"field":"i"}}},
{"transform":[{"filter":"datum.s[0]=='f'"}],"mark":{"type":"line","stroke":"#d00000","fill":"#d00000","strokeWidth":1,"interpolate":"cardinal-closed","tension":0.6},"encoding":{"detail":{"field":"s"},"order":{"field":"i"}}},
{"transform":[{"filter":"datum.s[0]=='h'"}],"mark":{"type":"line","stroke":"white","fill":"white","strokeWidth":1,"interpolate":"cardinal-closed","tension":0.6},"encoding":{"detail":{"field":"s"},"order":{"field":"i"}}},
{"data":{"values":[{"x":-15.5,"y":129.1,"label":"t = 2.5"}]},"mark":{"type":"text","font":"Liberation Serif","fontSize":20,"align":"left","baseline":"alphabetic","color":"#000"},"encoding":{"text":{"field":"label"}}},
{"data":{"values":[{"x":52.3,"y":128.7,"label":"Min : -1.09\u00a0\u00a0\u00a0Max : 1.16"}]},"mark":{"type":"text","font":"Liberation Serif","fontSize":21.3,"align":"left","baseline":"alphabetic","color":"#000"},"encoding":{"text":{"field":"label"}}}]},
{"width":309.7,"height":309.5,"data":{"name":"p5"},"encoding":{"x":{"field":"x","type":"quantitative","scale":{"domain":[0,120],"range":[0,309.7],"nice":false,"zero":false},"axis":{"zindex":1,"title":"X","values":[0,5,10,15,20,25,30,35,40,45,50,55,60,65,70,75,80,85,90,95,100,105,110,115,120],"labelExpr":"datum.value%25==0?datum.label:''","tickSize":{"condition":{"test":"datum.value%25==0","value":6},"value":4}}},"y":{"field":"y","type":"quantitative","scale":{"domain":[0,120],"range":[309.5,0],"nice":false,"zero":false},"axis":{"zindex":1,"title":"Y","values":[0,5,10,15,20,25,30,35,40,45,50,55,60,65,70,75,80,85,90,95,100,105,110,115,120],"labelExpr":"datum.value%25==0?datum.label:''","tickSize":{"condition":{"test":"datum.value%25==0","value":8},"value":5}}}},
"layer":[
{"data":{"values":[{"x":-20.6,"x2":136.9,"y":142.3,"y2":-17.9}]},"mark":{"type":"rect","filled":false,"stroke":"#222","strokeWidth":1.5},"encoding":{"x2":{"field":"x2"},"y2":{"field":"y2"}}},
{"data":{"name":"box"},"mark":{"type":"line","color":"#d00000","strokeWidth":1},"encoding":{"order":{"field":"i"}}},
{"data":{"name":"ext"},"mark":{"type":"line","color":"#000","strokeWidth":1.5},"encoding":{"order":{"field":"i"}}},
{"transform":[{"filter":"datum.s[0]=='f'"}],"mark":{"type":"line","stroke":"#d00000","fill":"#d00000","strokeWidth":1,"interpolate":"cardinal-closed","tension":0.6},"encoding":{"detail":{"field":"s"},"order":{"field":"i"}}},
{"transform":[{"filter":"datum.s[0]=='h'"}],"mark":{"type":"line","stroke":"white","fill":"white","strokeWidth":1,"interpolate":"cardinal-closed","tension":0.6},"encoding":{"detail":{"field":"s"},"order":{"field":"i"}}},
{"transform":[{"filter":"datum.s[0]=='T'"}],"mark":{"type":"line","color":"#d00000","strokeWidth":7.5,"interpolate":"natural","clip":true},"encoding":{"detail":{"field":"s"},"order":{"field":"i"}}},
{"transform":[{"filter":"datum.s[0]=='m'"}],"mark":{"type":"line","color":"#d00000","strokeWidth":3,"interpolate":"natural","clip":true},"encoding":{"detail":{"field":"s"},"order":{"field":"i"}}},
{"transform":[{"filter":"datum.s[0]=='w'"}],"mark":{"type":"line","color":"white","strokeWidth":3},"encoding":{"detail":{"field":"s"},"order":{"field":"i"}}},
{"data":{"values":[{"x":-14.4,"y":131,"label":"t = 10.0"}]},"mark":{"type":"text","font":"Liberation Serif","fontSize":24.5,"align":"left","baseline":"alphabetic","color":"#000"},"encoding":{"text":{"field":"label"}}},
{"data":{"values":[{"x":42.5,"y":127.6,"label":"Min : -0.53\u00a0\u00a0\u00a0Max : 1280.03"}]},"mark":{"type":"text","font":"Liberation Serif","fontSize":21.3,"align":"left","baseline":"alphabetic","color":"#000"},"encoding":{"text":{"field":"label"}}}]},
{"width":309.5,"height":312.5,"data":{"name":"p3"},"encoding":{"x":{"field":"x","type":"quantitative","scale":{"domain":[0,120],"range":[0,309.5],"nice":false,"zero":false},"axis":{"zindex":1,"title":"X","values":[0,5,10,15,20,25,30,35,40,45,50,55,60,65,70,75,80,85,90,95,100,105,110,115,120],"labelExpr":"datum.value%25==0?datum.label:''","tickSize":{"condition":{"test":"datum.value%25==0","value":6},"value":4}}},"y":{"field":"y","type":"quantitative","scale":{"domain":[0,120],"range":[312.5,3],"nice":false,"zero":false},"axis":{"zindex":1,"title":"Y","values":[0,5,10,15,20,25,30,35,40,45,50,55,60,65,70,75,80,85,90,95,100,105,110,115,120],"labelExpr":"datum.value%25==0?datum.label:''","tickSize":{"condition":{"test":"datum.value%25==0","value":8},"value":5}}}},
"layer":[
{"data":{"values":[{"x":-20.9,"x2":139,"y":142.3,"y2":-17.2}]},"mark":{"type":"rect","filled":false,"stroke":"#333","strokeWidth":1},"encoding":{"x2":{"field":"x2"},"y2":{"field":"y2"}}},
{"data":{"name":"box"},"mark":{"type":"line","color":"#d00000","strokeWidth":1},"encoding":{"order":{"field":"i"}}},
{"data":{"name":"ext"},"mark":{"type":"line","color":"#000","strokeWidth":1.5},"encoding":{"order":{"field":"i"}}},
{"transform":[{"filter":"datum.s[0]=='f'"}],"mark":{"type":"line","stroke":"#d00000","fill":"#d00000","strokeWidth":1,"interpolate":"cardinal-closed","tension":0.6},"encoding":{"detail":{"field":"s"},"order":{"field":"i"}}},
{"transform":[{"filter":"datum.s[0]=='h'"}],"mark":{"type":"line","stroke":"white","fill":"white","strokeWidth":1,"interpolate":"cardinal-closed","tension":0.6},"encoding":{"detail":{"field":"s"},"order":{"field":"i"}}},
{"transform":[{"filter":"datum.s[0]=='m'"}],"mark":{"type":"line","color":"#d00000","strokeWidth":2.4,"interpolate":"natural","clip":true},"encoding":{"detail":{"field":"s"},"order":{"field":"i"}}},
{"transform":[{"filter":"datum.s[0]=='t'"}],"mark":{"type":"line","color":"#d00000","strokeWidth":1.4,"interpolate":"natural","clip":true},"encoding":{"detail":{"field":"s"},"order":{"field":"i"}}},
{"data":{"values":[{"x":-16.6,"y":128.7,"label":"t = 5.0"}]},"mark":{"type":"text","font":"Liberation Serif","fontSize":20,"align":"left","baseline":"alphabetic","color":"#000"},"encoding":{"text":{"field":"label"}}},
{"data":{"values":[{"x":53.8,"y":128.7,"label":"Min : -0.81\u00a0\u00a0\u00a0Max : 8.11"}]},"mark":{"type":"text","font":"Liberation Serif","fontSize":21.3,"align":"left","baseline":"alphabetic","color":"#000"},"encoding":{"text":{"field":"label"}}}]},
{"width":309.7,"height":310.5,"data":{"name":"p6"},"encoding":{"x":{"field":"x","type":"quantitative","scale":{"domain":[0,120],"range":[0,309.7],"nice":false,"zero":false},"axis":{"zindex":1,"title":"X","values":[0,5,10,15,20,25,30,35,40,45,50,55,60,65,70,75,80,85,90,95,100,105,110,115,120],"labelExpr":"datum.value%25==0?datum.label:''","tickSize":{"condition":{"test":"datum.value%25==0","value":6},"value":4}}},"y":{"field":"y","type":"quantitative","scale":{"domain":[0,120],"range":[310.5,1],"nice":false,"zero":false},"axis":{"zindex":1,"title":"Y","values":[0,5,10,15,20,25,30,35,40,45,50,55,60,65,70,75,80,85,90,95,100,105,110,115,120],"labelExpr":"datum.value%25==0?datum.label:''","tickSize":{"condition":{"test":"datum.value%25==0","value":8},"value":5}}}},
"layer":[
{"data":{"values":[{"x":-20.6,"x2":136.9,"y":142.7,"y2":-18}]},"mark":{"type":"rect","filled":false,"stroke":"#333","strokeWidth":1},"encoding":{"x2":{"field":"x2"},"y2":{"field":"y2"}}},
{"data":{"name":"box"},"mark":{"type":"line","color":"#d00000","strokeWidth":1},"encoding":{"order":{"field":"i"}}},
{"data":{"name":"ext"},"mark":{"type":"line","color":"#000","strokeWidth":1.5},"encoding":{"order":{"field":"i"}}},
{"transform":[{"filter":"datum.s[0]=='f'"}],"mark":{"type":"line","stroke":"#d00000","fill":"#d00000","strokeWidth":1,"interpolate":"cardinal-closed","tension":0.6},"encoding":{"detail":{"field":"s"},"order":{"field":"i"}}},
{"transform":[{"filter":"datum.s[0]=='h'"}],"mark":{"type":"line","stroke":"white","fill":"white","strokeWidth":1,"interpolate":"cardinal-closed","tension":0.6},"encoding":{"detail":{"field":"s"},"order":{"field":"i"}}},
{"transform":[{"filter":"datum.s[0]=='T'"}],"mark":{"type":"line","color":"#d00000","strokeWidth":7.5,"interpolate":"natural","clip":true},"encoding":{"detail":{"field":"s"},"order":{"field":"i"}}},
{"transform":[{"filter":"datum.s[0]=='m'"}],"mark":{"type":"line","color":"#d00000","strokeWidth":3.5,"interpolate":"natural","clip":true},"encoding":{"detail":{"field":"s"},"order":{"field":"i"}}},
{"transform":[{"filter":"datum.s[0]=='w'"}],"mark":{"type":"line","color":"white","strokeWidth":3},"encoding":{"detail":{"field":"s"},"order":{"field":"i"}}},
{"data":{"values":[{"x":-15.2,"y":131,"label":"t = 12.5"}]},"mark":{"type":"text","font":"Liberation Serif","fontSize":20,"align":"left","baseline":"alphabetic","color":"#000"},"encoding":{"text":{"field":"label"}}},
{"data":{"values":[{"x":40.5,"y":129.5,"label":"Min : -0.01\u00a0\u00a0\u00a0Max : 4397.69"}]},"mark":{"type":"text","font":"Liberation Serif","fontSize":21.3,"align":"left","baseline":"alphabetic","color":"#000"},"encoding":{"text":{"field":"label"}}}]}
]}
